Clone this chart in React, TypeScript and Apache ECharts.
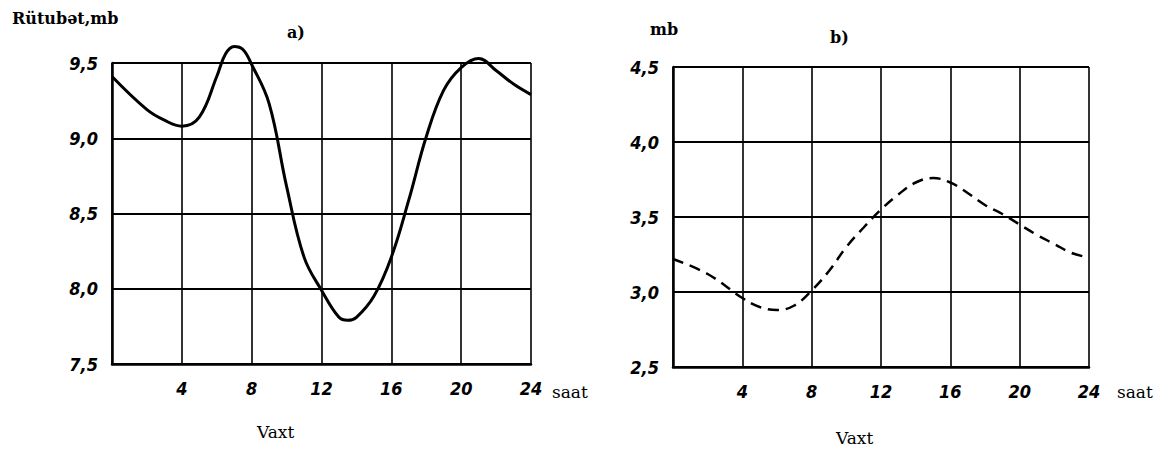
import React, { useEffect, useRef } from "react";
import * as echarts from "echarts";

const hoursA = [0, 2, 3, 4, 5, 6, 6.5, 7, 7.5, 8, 9, 10, 11, 12, 13, 13.5, 14, 15, 16, 17, 18, 19, 20, 21, 22, 23, 24];
const humidityA = [9.41, 9.19, 9.12, 9.08, 9.14, 9.41, 9.56, 9.61, 9.59, 9.49, 9.23, 8.68, 8.21, 7.99, 7.81, 7.79, 7.81, 7.95, 8.21, 8.59, 9.01, 9.32, 9.47, 9.53, 9.45, 9.36, 9.29];

const hoursB = [0, 2, 4, 5, 6, 7, 8, 9, 10, 11, 12, 13, 14, 15, 16, 17, 18, 19, 20, 21, 22, 23, 24];
const humidityB = [3.22, 3.12, 2.96, 2.9, 2.88, 2.91, 3.01, 3.14, 3.3, 3.43, 3.55, 3.65, 3.73, 3.76, 3.73, 3.66, 3.58, 3.52, 3.45, 3.38, 3.32, 3.26, 3.23];

const yRangeA = [7.5, 9.5];
const yRangeB = [2.5, 4.5];

const tickFont = {
  color: "#000",
  fontFamily: "DejaVu Sans Condensed, DejaVu Sans",
  fontStyle: "italic" as const,
  fontWeight: "bold" as const,
  fontSize: 18,
};

const serif = "DejaVu Serif";

const label = (text: string, left: number, top: number, size: number, bold: boolean) => ({
  type: "text" as const,
  left,
  top,
  style: {
    text,
    fontFamily: serif,
    fontSize: size,
    fontWeight: bold ? ("bold" as const) : ("normal" as const),
    fill: "#000",
  },
});

export default function App() {
  const ref = useRef<HTMLDivElement>(null);
  useEffect(() => {
    if (!ref.current) return;
    const chart = echarts.init(ref.current, null, { renderer: "svg" });
    const xAxisBase = (gridIndex: number) => ({
      type: "value" as const,
      gridIndex,
      min: 0,
      max: 24,
      interval: 4,
      axisLine: { show: true, lineStyle: { color: "#000", width: 2.5 } },
      axisTick: { show: false },
      splitLine: { show: true, lineStyle: { color: "#000", width: 1.6 } },
      axisLabel: {
        ...tickFont,
        margin: 15,
        formatter: (v: number) => (v === 0 ? "" : String(v)),
      },
    });
    const yAxisBase = (gridIndex: number, range: number[]) => ({
      type: "value" as const,
      gridIndex,
      min: range[0],
      max: range[1],
      interval: 0.5,
      axisLine: { show: true, lineStyle: { color: "#000", width: 2.5 } },
      axisTick: { show: false },
      splitLine: { show: true, lineStyle: { color: "#000", width: 2 } },
      axisLabel: {
        ...tickFont,
        margin: 14,
        formatter: (v: number) => v.toFixed(1).replace(".", ","),
      },
    });
    chart.setOption({
      animation: false,
      backgroundColor: "#fff",
      grid: [
        { left: 112, right: 639, top: 63, bottom: 87 },
        { left: 673, right: 81, top: 67, bottom: 84 },
      ],
      xAxis: [xAxisBase(0), xAxisBase(1)],
      yAxis: [yAxisBase(0, yRangeA), yAxisBase(1, yRangeB)],
      series: [
        {
          type: "line",
          xAxisIndex: 0,
          yAxisIndex: 0,
          smooth: 0.4,
          clip: false,
          symbol: "none",
          lineStyle: { color: "#000", width: 3 },
          data: hoursA.map((h, i) => [h, humidityA[i]]),
        },
        {
          type: "line",
          xAxisIndex: 1,
          yAxisIndex: 1,
          smooth: 0.4,
          clip: false,
          symbol: "none",
          lineStyle: { color: "#000", width: 2.5, type: [11, 7] },
          data: hoursB.map((h, i) => [h, humidityB[i]]),
        },
      ],
      graphic: [
        label("Rütubət,mb", 12, 10, 16, true),
        label("a)", 287, 24, 16, true),
        label("mb", 650, 21, 16, true),
        label("b)", 830, 29, 16, true),
        label("Vaxt", 257, 423, 17, false),
        label("Vaxt", 836, 429, 17, false),
        label("saat", 552, 383, 17, false),
        label("saat", 1117, 383, 17, false),
      ],
    });
    return () => chart.dispose();
  }, []);
  return (
    <div
      ref={ref}
      style={{ position: "fixed", left: 0, top: 0, width: 1170, height: 451 }}
    />
  );
}
